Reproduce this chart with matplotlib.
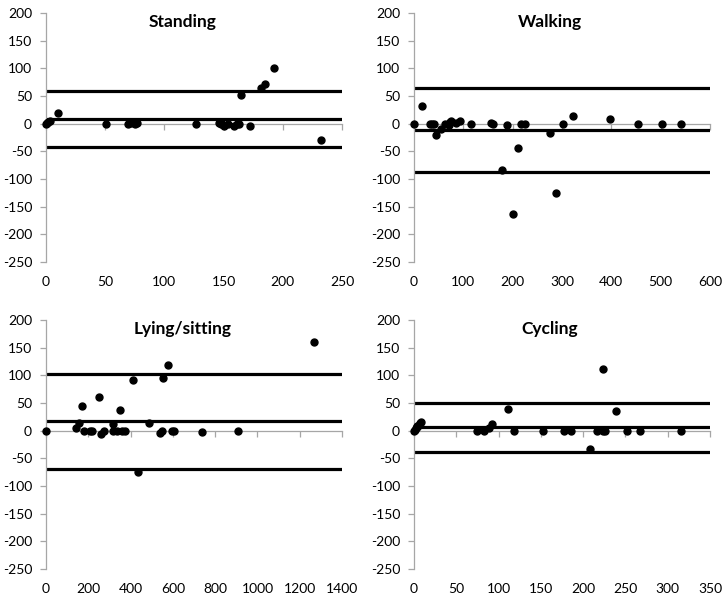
import matplotlib
matplotlib.use("Agg")
import matplotlib.pyplot as plt

plt.rcParams['font.family'] = ['Lato', 'DejaVu Sans']
plt.rcParams['axes.unicode_minus'] = False

# ---- data ----
standing_x = [0, 1, 2, 3, 10, 51, 69, 71.5, 75, 76.5, 127, 146, 147.5, 149, 150.5, 154, 159, 161, 163,
              164.5, 172, 182, 185, 192.5, 232]
standing_y = [0, 1, 3, 5, 19, 0, 0, 1, 0, 1, 0, 2, 0, -1, -4, -1, -4, 0, 0,
              51, -5, 65, 72, 101, -30]
standing_lines = [59, 8, -43]

walking_x = [0, 17, 33, 37, 41, 45, 55, 63, 70, 73, 75, 86, 93, 116, 157, 159.5, 179, 188, 201, 211,
             216, 226, 275, 287, 303, 323, 397, 454, 503, 541]
walking_y = [0, 32, 0, 0, 0, -20, -10, 0, -2, 3, 4, 1, 5, 0, 1, 0, -83, -2, -163, -44,
             0, 0, -17, -125, 0, 13, 9, 0, 0, 0]
walking_lines = [64, -12, -88]

lying_x = [0, 142, 155, 168, 178, 206, 216, 253, 262, 276, 315, 318, 337, 352, 358, 374, 412, 433,
           487, 540, 551, 553, 577, 594, 606, 737, 908, 1267]
lying_y = [0, 4, 14, 44, 0, 0, 0, 61, -6, -1, 0, 12, 0, 38, 0, 0, 91, -74,
           13, -4, 0, 95, 119, 0, 0, -3, 0, 161]
lying_lines = [102, 17, -69]

cycling_x = [0, 1, 2, 3, 4, 6, 7, 8, 75, 83, 89, 92, 111, 118, 152.5, 177, 186, 208, 216, 223,
             224, 226, 238.5, 252, 267, 316]
cycling_y = [0, 2, 4, 6, 8, 11, 13, 15, 0, 0, 5, 12, 40, 0, 0, 0, 0, -33, 0, 112,
             0, 0, 36, 0, 0, 0]
cycling_lines = [50, 6.5, -38]

titles = ["Standing", "Walking", "Lying/sitting", "Cycling"]
xmaxes = [250, 600, 1400, 350]
xsteps = [50, 100, 200, 50]
yticks = [200, 150, 100, 50, 0, -50, -100, -150, -200, -250]

panels = [(standing_x, standing_y, standing_lines),
          (walking_x, walking_y, walking_lines),
          (lying_x, lying_y, lying_lines),
          (cycling_x, cycling_y, cycling_lines)]

W, H = 727, 601
fig = plt.figure(figsize=(W / 100, H / 100), dpi=100)

lefts = [46, 414, 46, 414]
tops = [13, 13, 320, 320]
aw, ah = 296, 249
gray = '#A6A6A6'

for i, (xs, ys, lines) in enumerate(panels):
    ax = fig.add_axes([lefts[i] / W, 1 - (tops[i] + ah) / H, aw / W, ah / H])
    xmax = xmaxes[i]
    ax.set_xlim(0, xmax)
    ax.set_ylim(-250, 200)
    for v in lines:
        ax.plot([0, xmax], [v, v], color='black', lw=2.3, solid_capstyle='butt', zorder=2)
    ax.plot(xs, ys, 'o', color='black', ms=5, zorder=3, clip_on=False)

    for s in ['top', 'right']:
        ax.spines[s].set_visible(False)
    ax.spines['left'].set_color(gray)
    ax.spines['left'].set_linewidth(0.9)
    ax.spines['bottom'].set_color(gray)
    ax.spines['bottom'].set_linewidth(0.9)
    ax.spines['bottom'].set_position(('data', 0))
    ax.spines['bottom'].set_zorder(1)

    ticks = list(range(0, xmax + 1, xsteps[i]))
    ax.set_xticks(ticks)
    ax.tick_params(axis='x', direction='out', length=4, color=gray, width=0.9, labelbottom=False)
    ax.set_yticks(yticks)
    ax.set_yticklabels([str(t) for t in yticks])
    ax.tick_params(axis='y', direction='out', length=4, color=gray, width=0.9, labelsize=10, pad=6)

    sec = ax.secondary_xaxis(0.0)
    sec.set_xticks(ticks)
    sec.set_xticklabels([str(t) for t in ticks])
    sec.spines['bottom'].set_visible(False)
    sec.tick_params(axis='x', length=0, labelsize=10, pad=10)

    ax.text(0.46, 0.965, titles[i], transform=ax.transAxes, ha='center', va='center',
            fontsize=12.5, fontweight='bold')

fig.savefig('out.png', dpi=100)
